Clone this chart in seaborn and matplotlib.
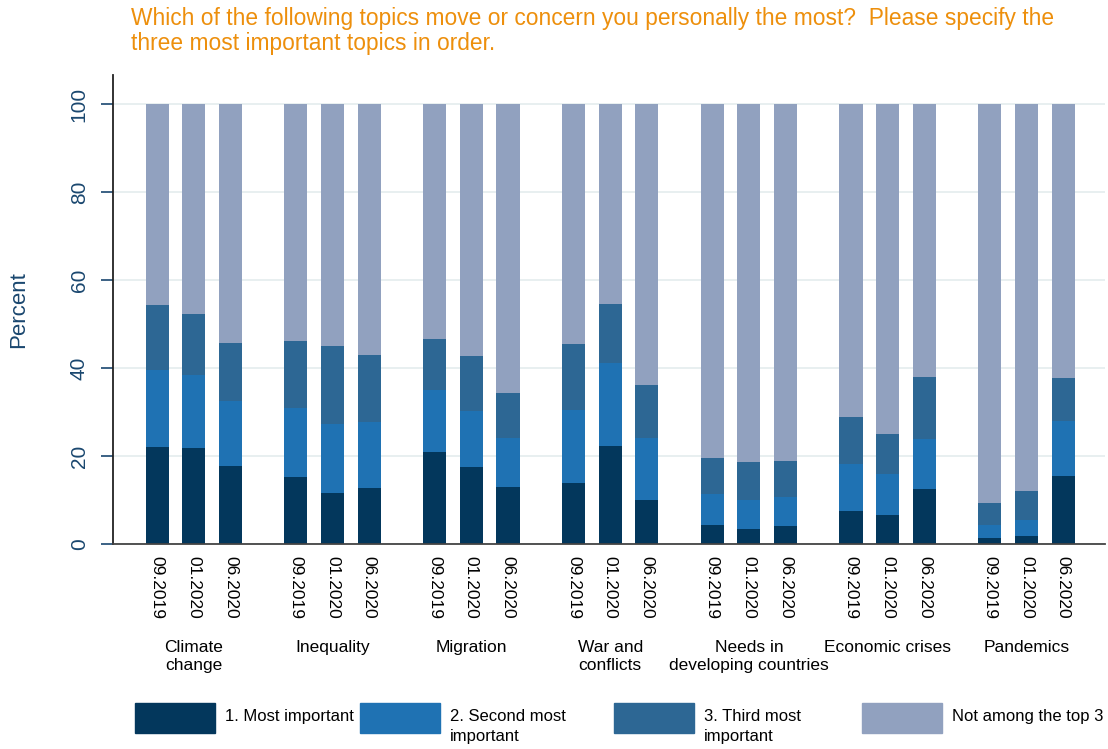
import numpy as np
import pandas as pd
import matplotlib
matplotlib.use("Agg")
import matplotlib.pyplot as plt
from matplotlib.patches import Rectangle
import seaborn as sns

# Survey waves and topics
periods = ["09.2019", "01.2020", "06.2020"]
topics = ["Climate\nchange", "Inequality", "Migration", "War and\nconflicts",
          "Needs in\ndeveloping countries", "Economic crises", "Pandemics"]

# Shares in percent, ordered topic by topic, wave by wave
most = [22.0, 21.8, 17.7, 15.2, 11.6, 12.7, 20.9, 17.5, 13.0, 13.9, 22.3, 10.0,
        4.4, 3.4, 4.2, 7.5, 6.6, 12.4, 1.4, 1.8, 15.5]
second = [17.6, 16.6, 14.8, 15.8, 15.7, 15.1, 14.1, 12.7, 11.0, 16.6, 18.8, 14.1,
          6.9, 6.6, 6.5, 10.6, 9.4, 11.4, 2.9, 3.6, 12.5]
third = [14.7, 13.9, 13.2, 15.1, 17.7, 15.2, 11.6, 12.6, 10.2, 14.9, 13.4, 12.0,
         8.2, 8.6, 8.2, 10.8, 9.1, 14.1, 5.0, 6.7, 9.8]

legend_labels = ["1. Most important", "2. Second most\nimportant",
                 "3. Third most\nimportant", "Not among the top 3"]
colors = ["#03375c", "#1f72b3", "#2d6794", "#91a1bf"]

# Build a long table with bar positions (gap between topic groups)
group_step = 3.78
rows = []
k = 0
for g, t in enumerate(topics):
    for i, p in enumerate(periods):
        rows.append({"topic": t, "period": p, "pos": g * group_step + i,
                     "most": most[k], "second": second[k], "third": third[k]})
        k += 1
df = pd.DataFrame(rows)
df["not_top3"] = 100 - df["most"] - df["second"] - df["third"]
df["cum1"] = df["most"]
df["cum2"] = df["cum1"] + df["second"]
df["cum3"] = df["cum2"] + df["third"]
df["cum4"] = df["cum3"] + df["not_top3"]

sns.set_theme(style="white")
plt.rcParams["font.family"] = ["Liberation Sans", "DejaVu Sans"]

fig = plt.figure(figsize=(11.08, 7.49), dpi=100)
ax = fig.add_axes([0.102, 0.2737, 0.895, 0.6263])

# Layered bars: draw the tallest cumulative layer first
for col, c in zip(["cum4", "cum3", "cum2", "cum1"], colors[::-1]):
    sns.barplot(data=df, x="pos", y=col, color=c, native_scale=True, width=0.63,
                errorbar=None, linewidth=0, saturation=1, ax=ax)

ax.set_ylim(0, 106.6)
ax.set_xlim(-1.2, 6 * group_step + 2 + 1.13)
ax.set_yticks([0, 20, 40, 60, 80, 100])
ax.set_yticklabels(["0", "20", "40", "60", "80", "100"], rotation=90,
                   va="center", fontsize=15, color="#1a476f")
ax.tick_params(axis="y", direction="out", length=8.5, width=1.2, color="#1a476f", pad=9, left=True)
ax.set_xticks(df["pos"])
ax.set_xticklabels(df["period"], rotation=-90, fontsize=12.5, color="black")
ax.tick_params(axis="x", length=0, pad=9)
ax.set_xlabel("")
ax.set_ylabel("Percent", fontsize=16, color="#1a476f", labelpad=29)
ax.grid(axis="y", color="#e6eeef", linewidth=1.3)
ax.set_axisbelow(True)

for s in ["top", "right"]:
    ax.spines[s].set_visible(False)
ax.spines["left"].set_color("#222222")
ax.spines["bottom"].set_color("#444444")
ax.spines["left"].set_linewidth(1.3)
ax.spines["bottom"].set_linewidth(1.3)

# Topic names under each group of bars
for g, t in enumerate(topics):
    ax.text(g * group_step + 1, -0.205, t, transform=ax.get_xaxis_transform(),
            ha="center", va="top", fontsize=12.5, color="black",
            multialignment="center", linespacing=1.2)

fig.text(0.118, 0.99, "Which of the following topics move or concern you personally the most?  "
         "Please specify the\nthree most important topics in order.",
         ha="left", va="top", fontsize=16.4, color="#ed8f0c", linespacing=1.08)

# Legend boxes along the bottom
leg_x = [135, 360, 614, 862]
for x0, lab, c in zip(leg_x, legend_labels, colors):
    fig.patches.append(Rectangle((x0 / 1108, 16 / 749), 80 / 1108, 30 / 749,
                                 transform=fig.transFigure, color=c, figure=fig))
    fig.text((x0 + 90) / 1108, 40 / 749, lab, ha="left", va="top",
             fontsize=12, color="black", linespacing=1.4)

fig.savefig("out.png", dpi=100)
